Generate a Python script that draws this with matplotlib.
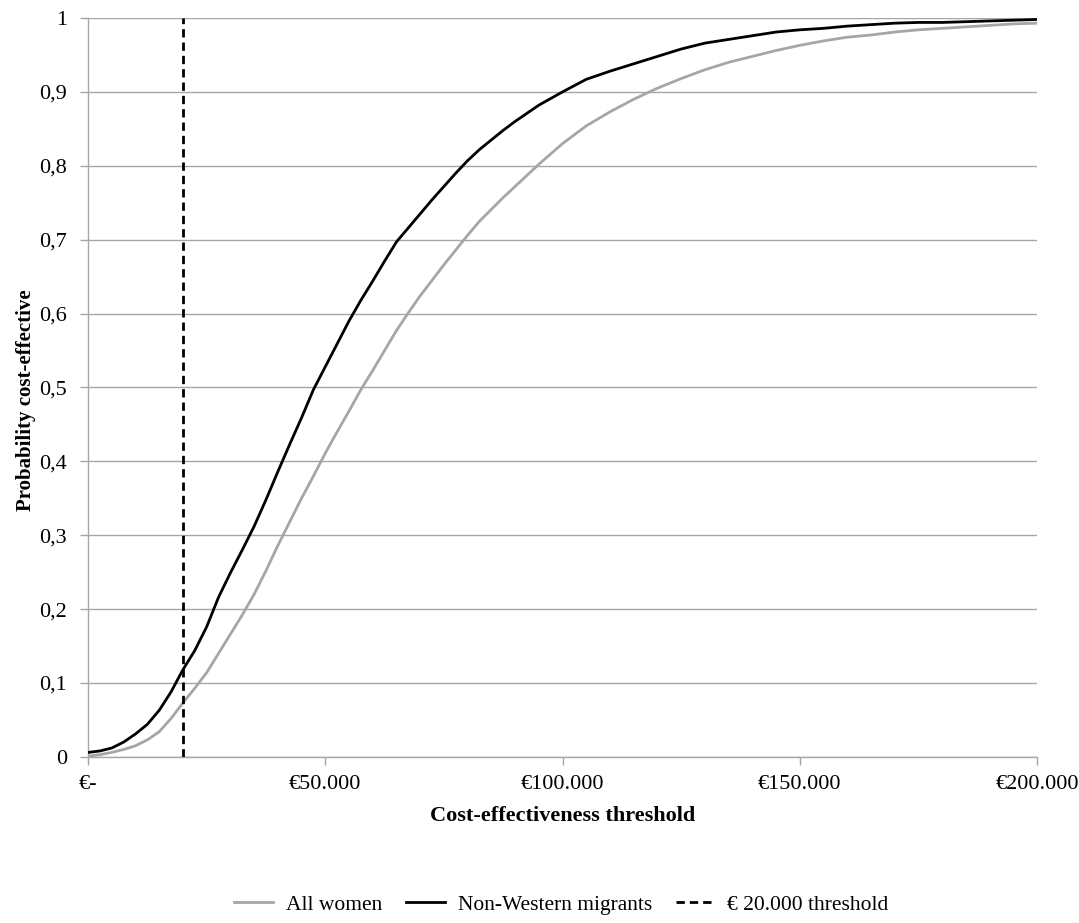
import matplotlib.pyplot as plt
import numpy as np

# cost-effectiveness thresholds (euro): 2.500 steps up to 100.000, then 5.000 steps
thresholds = list(range(0, 100000, 2500)) + list(range(100000, 200001, 5000))

# probability cost-effective
all_women = [0.001, 0.003, 0.006, 0.010, 0.015, 0.023, 0.034, 0.052, 0.073, 0.093,
             0.114, 0.140, 0.166, 0.192, 0.220, 0.252, 0.286, 0.318, 0.350, 0.380,
             0.411, 0.440, 0.468, 0.497, 0.523, 0.550, 0.577, 0.601, 0.624, 0.645,
             0.666, 0.686, 0.706, 0.725, 0.741, 0.757, 0.772, 0.787, 0.802, 0.816,
             0.830, 0.854, 0.873, 0.890, 0.905, 0.918, 0.930, 0.940, 0.948, 0.956,
             0.963, 0.969, 0.974, 0.977, 0.981, 0.984, 0.986, 0.988, 0.990, 0.992,
             0.993]
non_western = [0.006, 0.008, 0.012, 0.020, 0.031, 0.044, 0.063, 0.088, 0.118, 0.144,
               0.176, 0.216, 0.249, 0.280, 0.312, 0.348, 0.386, 0.423, 0.459, 0.497,
               0.528, 0.559, 0.590, 0.618, 0.644, 0.671, 0.697, 0.716, 0.735, 0.754,
               0.772, 0.790, 0.807, 0.822, 0.835, 0.848, 0.860, 0.871, 0.882, 0.891,
               0.900, 0.917, 0.928, 0.938, 0.948, 0.958, 0.966, 0.971, 0.976, 0.981,
               0.984, 0.986, 0.989, 0.991, 0.993, 0.994, 0.994, 0.995, 0.996, 0.997,
               0.998]
wtp_threshold = 20000

x_ticks = [0, 50000, 100000, 150000, 200000]
x_tick_labels = ['€-', '€50.000', '€100.000', '€150.000', '€200.000']
y_ticks = [0, 0.1, 0.2, 0.3, 0.4, 0.5, 0.6, 0.7, 0.8, 0.9, 1.0]
y_tick_labels = ['0', '0,1', '0,2', '0,3', '0,4', '0,5', '0,6', '0,7', '0,8', '0,9', '1']

plt.rcParams['font.family'] = ['Liberation Serif', 'DejaVu Serif']

fig = plt.figure(figsize=(10.79, 9.23), dpi=100)
ax = fig.add_axes([0.0816, 0.18, 0.8795, 0.8005])

grid_col = '#a6a6a6'
dash = (0, (3.0, 1.8))
ax.plot(thresholds, all_women, color='#a6a6a6', lw=2, label='All women', zorder=3)
ax.plot(thresholds, non_western, color='black', lw=2, label='Non-Western migrants', zorder=4)
ax.axvline(wtp_threshold, color='black', lw=2.0, ls=dash, label='€ 20.000 threshold', zorder=5)

ax.set_xlim(0, 200000)
ax.set_ylim(0, 1)
ax.set_xticks(x_ticks)
ax.set_xticklabels(x_tick_labels)
ax.set_yticks(y_ticks)
ax.set_yticklabels(y_tick_labels)
ax.tick_params(axis='both', labelsize=16, color=grid_col, length=6, width=1)
ax.tick_params(axis='x', pad=7)
ax.tick_params(axis='y', pad=9)

# horizontal gridlines only, as in the original
ax.yaxis.grid(True, color=grid_col, lw=1)
ax.set_axisbelow(True)
for s in ['top', 'right']:
    ax.spines[s].set_visible(False)
for s in ['left', 'bottom']:
    ax.spines[s].set_color(grid_col)
    ax.spines[s].set_linewidth(1)

ax.set_xlabel('Cost-effectiveness threshold', fontsize=16, fontweight='bold', labelpad=9)
ax.set_ylabel('Probability cost-effective', fontsize=15, fontweight='bold')
ax.yaxis.set_label_coords(-0.0546, 0.483)

fig.legend(loc='center', bbox_to_anchor=(0.5204, 0.02), ncol=3, frameon=False, fontsize=15.5,
           handlelength=1.8, columnspacing=1.1, handletextpad=0.6)

fig.savefig('out.png', dpi=100)
